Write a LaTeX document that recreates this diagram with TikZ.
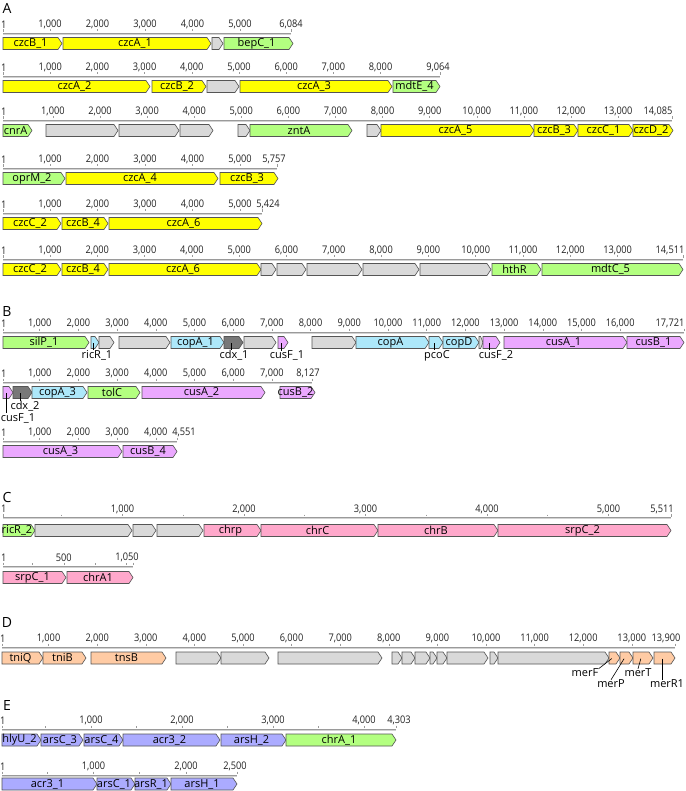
\documentclass[tikz,border=0pt]{standalone}
\usepackage{fontspec}
\setmainfont{Open Sans}
\newfontfamily\tickfont[FakeStretch=0.88]{Open Sans}
\definecolor{ylw}{HTML}{FFFF00}
\definecolor{grn}{HTML}{B3FF80}
\definecolor{gry}{HTML}{D9D9D9}
\definecolor{blu}{HTML}{ADE8FA}
\definecolor{vio}{HTML}{EBA8FF}
\definecolor{dgy}{HTML}{787878}
\definecolor{pnk}{HTML}{FFA8CB}
\definecolor{pch}{HTML}{FFCBA4}
\definecolor{lav}{HTML}{ABABFF}
\definecolor{gline}{HTML}{555555}
\definecolor{rulerc}{HTML}{9A9A9A}
\definecolor{rulerl}{HTML}{D2D2D2}
\definecolor{tickc}{HTML}{222222}
\tikzset{
 genebox/.style={draw=gline, line width=0.6pt, line join=miter},
 genelab/.style={font=\fontsize{11}{12}\selectfont, inner sep=0pt, text=black},
 sublab/.style={font=\fontsize{11}{12}\selectfont, inner sep=0pt, text=black},
 ticklab/.style={font=\tickfont\fontsize{10.5}{11}\selectfont, inner sep=0pt, text=tickc},
 panel/.style={font=\fontsize{14}{16}\selectfont, inner sep=0pt},
 rulerline/.style={draw=rulerc, line width=0.8pt},
 rulerlight/.style={draw=rulerl, line width=0.8pt},
 tickmark/.style={draw=rulerc, line width=0.6pt},
 leader/.style={draw=black, line width=0.6pt},
}
\pgfkeys{/pgf/number format/.cd, 1000 sep={,}, assume math mode=true}
\newcommand\gn[6]{%
 \pgfmathsetmacro\gtip{min(4,(#3-#2)*0.6)}%
 \pgfmathsetmacro\gxb{#3-\gtip}%
 \pgfmathsetmacro\gxm{(#2+\gxb)/2}%
 \filldraw[genebox, fill=#5] (#2,#4-6) -- (\gxb,#4-6) -- (#3,#4) -- (\gxb,#4+6) -- (#2,#4+6) -- cycle;%
 \node[genelab] (#1) at (\gxm,#4) {#6};%
}
% ticks given in thousands
\newcommand\rul[7]{%
 \draw[rulerlight] (#3,#2+1) -- (#4,#2+1);%
 \draw[rulerline] (#3,#2) -- (#4,#2);%
 \node[ticklab] (#1-1) at (#3+0.8,#2-8.5) {1};%
 \draw[tickmark] (#3+0.5,#2-3.5) -- (#3+0.5,#2-1);%
 \foreach \v in {#7}{%
   \pgfmathsetmacro\tx{#5+\v*#6}%
   \pgfmathtruncatemacro\lab{\v*1000}%
   \node[ticklab] (#1-\lab) at (\tx,#2-8.5) {\pgfmathprintnumber{\lab}};%
   \draw[tickmark] (\tx,#2-3.5) -- (\tx,#2-1.5);%
 }%
}
\newcommand\minorticks[5]{%
 \foreach \v in {#5}{%
   \pgfmathsetmacro\tx{#3+\v*#4}%
   \draw[tickmark] (\tx,#2-3) -- (\tx,#2-1.5);%
 }%
}
\newcommand\rulend[5]{%
 \node[ticklab] (#1) at (#2,#3-8.5) {#4};%
 \draw[tickmark] (#5,#3-3.5) -- (#5,#3-1);%
}
\begin{document}
\begin{tikzpicture}[x=1pt,y=-1pt]
\useasboundingbox (0,0) rectangle (685,791);
\fill[white] (0,0) rectangle (685,791);

% ---------------- A ----------------
\node[panel] (pA) at (7,8) {A};
% A1
\rul{rAa}{33}{3}{291}{2.5}{47.5}{1,2,...,5}
\rulend{rAa-end}{291}{33}{6,084}{291}
\gn{gAa1}{3}{62}{43.5}{ylw}{czcB\_1}
\gn{gAa2}{63}{211}{43.5}{ylw}{czcA\_1}
\gn{gAa3}{212}{223}{43.5}{gry}{}
\gn{gAa4}{224}{293}{43.5}{grn}{bepC\_1}
% A2
\rul{rAb}{76}{3}{440}{3}{47.2}{1,2,...,8}
\rulend{rAb-end}{438}{76}{9,064}{440}
\gn{gAb1}{3}{150}{86.5}{ylw}{czcA\_2}
\gn{gAb2}{152}{206}{86.5}{ylw}{czcB\_2}
\gn{gAb3}{207}{239}{86.5}{gry}{}
\gn{gAb4}{240}{392}{86.5}{ylw}{czcA\_3}
\gn{gAb5}{393}{440}{86.5}{grn}{mdtE\_4}
% A3
\rul{rAc}{120}{3}{672}{5.8}{47.1}{1,2,...,13}
\rulend{rAc-end}{658}{120}{14,085}{672}
\gn{gAc1}{3}{32}{130.5}{grn}{cnrA}
\gn{gAc2}{46}{118}{130.5}{gry}{}
\gn{gAc3}{119}{179}{130.5}{gry}{}
\gn{gAc4}{180}{213}{130.5}{gry}{}
\gn{gAc5}{238}{250}{130.5}{gry}{}
\gn{gAc6}{250}{352}{130.5}{grn}{zntA}
\gn{gAc7}{367}{381}{130.5}{gry}{}
\gn{gAc8}{381}{534}{130.5}{ylw}{czcA\_5}
\gn{gAc9}{534}{578}{130.5}{ylw}{czcB\_3}
\gn{gAc10}{578}{633}{130.5}{ylw}{czcC\_1}
\gn{gAc11}{633}{673}{130.5}{ylw}{czcD\_2}
% A4
\rul{rAd}{168}{3}{277}{2.5}{47.5}{1,2,...,5}
\rulend{rAd-end}{274}{168}{5,757}{277}
\gn{gAd1}{3}{65}{178.5}{grn}{oprM\_2}
\gn{gAd2}{66}{218}{178.5}{ylw}{czcA\_4}
\gn{gAd3}{220}{278}{178.5}{ylw}{czcB\_3}
% A5
\rul{rAe}{213}{3}{262}{2.5}{47.5}{1,2,...,5}
\rulend{rAe-end}{268}{213}{5,424}{262}
\gn{gAe1}{3}{61}{223.5}{ylw}{czcC\_2}
\gn{gAe2}{62}{108}{223.5}{ylw}{czcB\_4}
\gn{gAe3}{109}{262}{223.5}{ylw}{czcA\_6}
% A6
\rul{rAf}{259}{3}{683}{2.7}{47.3}{1,2,...,13}
\rulend{rAf-end}{670}{259}{14,511}{683}
\gn{gAf1}{3}{61}{269.5}{ylw}{czcC\_2}
\gn{gAf2}{62}{108}{269.5}{ylw}{czcB\_4}
\gn{gAf3}{109}{261}{269.5}{ylw}{czcA\_6}
\gn{gAf4}{261}{276}{269.5}{gry}{}
\gn{gAf5}{277}{306}{269.5}{gry}{}
\gn{gAf6}{307}{362}{269.5}{gry}{}
\gn{gAf7}{363}{419}{269.5}{gry}{}
\gn{gAf8}{420}{491}{269.5}{gry}{}
\gn{gAf9}{492}{541}{269.5}{grn}{hthR}
\gn{gAf10}{542}{683}{269.5}{grn}{mdtC\_5}

% ---------------- B ----------------
\node[panel] (pB) at (7,312) {B};
% B1
\rul{rBa}{332}{3}{684}{1}{38.7}{1,2,...,16}
\rulend{rBa-end}{670}{332}{17,721}{684}
\gn{gBa1}{3}{89}{342.5}{grn}{silP\_1}
\gn{gBa2}{91}{99}{342.5}{blu}{}
\gn{gBa3}{99}{114}{342.5}{gry}{}
\gn{gBa4}{119}{170}{342.5}{gry}{}
\gn{gBa5}{171}{224}{342.5}{blu}{copA\_1}
\gn{gBa6}{224}{243}{342.5}{dgy}{}
\gn{gBa7}{244}{276}{342.5}{gry}{}
\gn{gBa8}{278}{288}{342.5}{vio}{}
\gn{gBa9}{312}{356}{342.5}{gry}{}
\gn{gBa10}{356}{429}{342.5}{blu}{copA}
\gn{gBa11}{429}{443}{342.5}{blu}{}
\gn{gBa12}{443}{479}{342.5}{blu}{copD}
\gn{gBa13}{479}{483}{342.5}{gry}{}
\gn{gBa14}{483}{500}{342.5}{vio}{}
\gn{gBa15}{504}{627}{342.5}{vio}{cusA\_1}
\gn{gBa16}{627}{684}{342.5}{vio}{cusB\_1}
\node[sublab] (lBricR) at (97,355.5) {ricR\_1};
\node[sublab] (lBcdx) at (234,355.5) {cdx\_1};
\node[sublab] (lBcusFa) at (287,355.5) {cusF\_1};
\node[sublab] (lBpcoC) at (437,355.5) {pcoC};
\node[sublab] (lBcusFb) at (496,355.5) {cusF\_2};
\draw[leader] (gBa2) -- (gBa2 |- lBricR.north);
\draw[leader] (gBa6) -- (gBa6 |- lBcdx.north);
\draw[leader] (gBa8) -- (gBa8 |- lBcusFa.north);
\draw[leader] (gBa11) -- (gBa11 |- lBpcoC.north);
\draw[leader] (gBa14) -- (gBa14 |- lBcusFb.north);
% B2
\rul{rBb}{382}{3}{312}{1}{38.7}{1,2,...,7}
\rulend{rBb-end}{308}{382}{8,127}{312}
\gn{gBb1}{3}{13}{392.5}{vio}{}
\gn{gBb2}{13}{32}{392.5}{dgy}{}
\gn{gBb3}{32}{87}{392.5}{blu}{copA\_3}
\gn{gBb4}{88}{140}{392.5}{grn}{tolC}
\gn{gBb5}{142}{265}{392.5}{vio}{cusA\_2}
\gn{gBb6}{280}{315}{392.5}{vio}{cusB\_2}
\node[sublab] (lBcdxb) at (25,406) {cdx\_2};
\node[sublab] (lBcusFc) at (18,418) {cusF\_1};
\draw[leader] (gBb2) -- (gBb2 |- lBcdxb.north);
\draw[leader] (gBb1) -- (gBb1 |- lBcusFc.north);
% B3
\rul{rBc}{441}{3}{177}{1}{38.7}{1,2,...,4}
\rulend{rBc-end}{184}{441}{4,551}{177}
\gn{gBc1}{3}{122}{451.5}{vio}{cusA\_3}
\gn{gBc2}{123}{177}{451.5}{vio}{cusB\_4}

% ---------------- C ----------------
\node[panel] (pC) at (7,497) {C};
\rul{rCa}{517.5}{3}{671}{1}{121.5}{1,2,...,5}
\minorticks{rCa}{517.5}{1}{121.5}{0.5,1.5,2.5,3.5,4.5}
\rulend{rCa-end}{662}{517.5}{5,511}{671}
\gn{gCa1}{3}{35}{530.5}{grn}{ricR\_2}
\gn{gCa2}{35}{132}{530.5}{gry}{}
\gn{gCa3}{133}{156}{530.5}{gry}{}
\gn{gCa4}{157}{203}{530.5}{gry}{}
\gn{gCa5}{204}{261}{530.5}{pnk}{chrp}
\gn{gCa6}{261}{378}{530.5}{pnk}{chrC}
\gn{gCa7}{378}{498}{530.5}{pnk}{chrB}
\gn{gCa8}{498}{671}{530.5}{pnk}{srpC\_2}
\rul{rCb}{566}{3}{133}{1}{125.7}{0.5}
\minorticks{rCb}{566}{1}{125.7}{0.25,0.75,1}
\rulend{rCb-end}{127}{566}{1,050}{133}
\gn{gCb1}{3}{66}{577.5}{pnk}{srpC\_1}
\gn{gCb2}{67}{133}{577.5}{pnk}{chrA1}

% ---------------- D ----------------
\node[panel] (pD) at (7,622) {D};
\rul{rDa}{647}{2}{675}{0}{48.6}{1,2,...,13}
\rulend{rDa-end}{666}{647}{13,900}{675}
\gn{gDa1}{2}{43}{658}{pch}{tniQ}
\gn{gDa2}{43}{86}{658}{pch}{tniB}
\gn{gDa3}{91}{166}{658}{pch}{tnsB}
\gn{gDa4}{176}{221}{658}{gry}{}
\gn{gDa5}{221}{269}{658}{gry}{}
\gn{gDa6}{278}{382}{658}{gry}{}
\gn{gDa7}{392}{402}{658}{gry}{}
\gn{gDa8}{402}{415}{658}{gry}{}
\gn{gDa9}{415}{430}{658}{gry}{}
\gn{gDa10}{430}{437}{658}{gry}{}
\gn{gDa11}{437}{447}{658}{gry}{}
\gn{gDa12}{447}{488}{658}{gry}{}
\gn{gDa13}{490}{498}{658}{gry}{}
\gn{gDa14}{498}{609}{658}{gry}{}
\gn{gDa15}{609}{620}{658}{pch}{}
\gn{gDa16}{620}{633}{658}{pch}{}
\gn{gDa17}{633}{653}{658}{pch}{}
\gn{gDa18}{654}{675}{658}{pch}{}
\node[sublab] (lDmerF) at (585,673) {merF};
\node[sublab] (lDmerP) at (611,684) {merP};
\node[sublab] (lDmerT) at (638,673) {merT};
\node[sublab] (lDmerR) at (667,684) {merR1};
\draw[leader] (gDa15) -- (lDmerF.north east);
\draw[leader] (gDa16) -- (lDmerP.north);
\draw[leader] (gDa17) -- (lDmerT.north);
\draw[leader] (gDa18) -- (gDa18 |- lDmerR.north);

% ---------------- E ----------------
\node[panel] (pE) at (7,705) {E};
\rul{rEa}{729}{2}{396}{0}{91}{1,2,...,4}
\minorticks{rEa}{729}{0}{91}{0.5,1.5,2.5,3.5}
\rulend{rEa-end}{399}{729}{4,303}{396}
\gn{gEa1}{2}{41}{740}{lav}{hlyU\_2}
\gn{gEa2}{41}{83}{740}{lav}{arsC\_3}
\gn{gEa3}{84}{123}{740}{lav}{arsC\_4}
\gn{gEa4}{123}{220}{740}{lav}{acr3\_2}
\gn{gEa5}{221}{286}{740}{lav}{arsH\_2}
\gn{gEa6}{286}{396}{740}{grn}{chrA\_1}
\rul{rEb}{775}{2}{237}{1}{92.5}{1,2}
\minorticks{rEb}{775}{1}{92.5}{0.5,1.5}
\rulend{rEb-end}{235}{775}{2,500}{237}
\gn{gEb1}{2}{97}{784}{lav}{acr3\_1}
\gn{gEb2}{97}{135}{784}{lav}{arsC\_1}
\gn{gEb3}{135}{171}{784}{lav}{arsR\_1}
\gn{gEb4}{171}{237}{784}{lav}{arsH\_1}
\end{tikzpicture}
\end{document}
